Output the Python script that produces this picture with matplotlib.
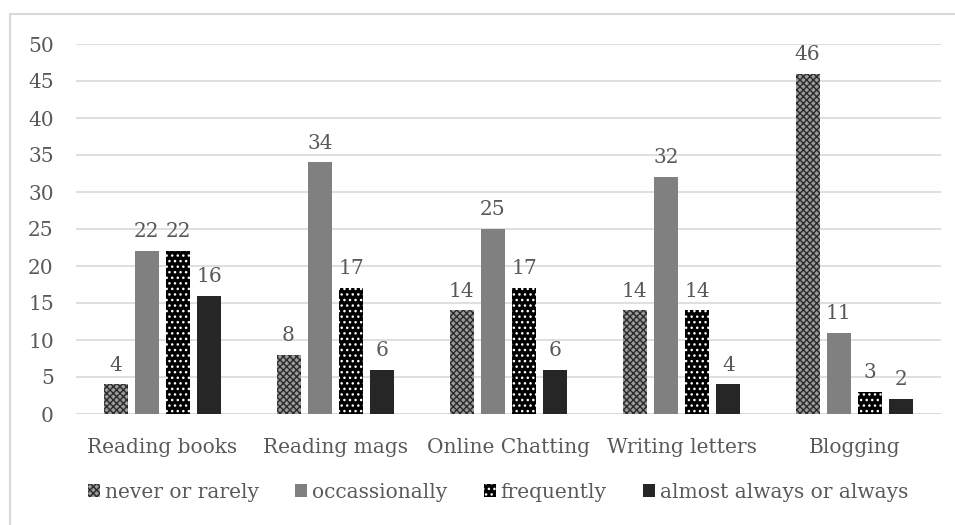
import matplotlib
matplotlib.use("Agg")
import matplotlib.pyplot as plt
import numpy as np
from matplotlib.lines import Line2D

categories = ["Reading books", "Reading mags", "Online Chatting", "Writing letters", "Blogging"]
series_names = ["never or rarely", "occassionally", "frequently", "almost always or always"]
never_rarely = [4, 8, 14, 14, 46]
occasionally = [22, 34, 25, 32, 11]
frequently = [22, 17, 17, 14, 3]
almost_always = [16, 6, 6, 4, 2]
y_ticks = [0, 5, 10, 15, 20, 25, 30, 35, 40, 45, 50]

plt.rcParams['font.family'] = ['DejaVu Serif']
plt.rcParams['hatch.linewidth'] = 1.0
TXT = '#595959'
FS = 14.5

fig = plt.figure(figsize=(9.55, 5.25), dpi=100)
ax = fig.add_axes([76/955, 1-414/525, 865/955, 370/525])

styles = [
    dict(facecolor='#9a9a9a', edgecolor='#2a2a2a', hatch='xxxxx'),
    dict(facecolor='#808080', edgecolor='#808080', hatch=None),
    dict(facecolor='#000000', edgecolor='#ffffff', hatch='...'),
    dict(facecolor='#262626', edgecolor='#262626', hatch=None),
]
data = [never_rarely, occasionally, frequently, almost_always]
x = np.arange(len(categories))
step = 0.181
width = 0.139
handles = []
for i, (vals, st, name) in enumerate(zip(data, styles, series_names)):
    pos = x + (i - 1.5) * step
    bars = ax.bar(pos, vals, width, linewidth=0, label=name, zorder=3, **st)
    handles.append(bars)
    for p, v in zip(pos, vals):
        ax.annotate(str(v), (p, v), xytext=(0, 7), textcoords='offset points',
                    ha='center', va='bottom', fontsize=FS, color=TXT)

ax.set_xlim(-0.5, len(categories) - 0.5)
ax.set_ylim(0, 50)
ax.set_yticks(y_ticks)
ax.set_yticklabels([str(t) for t in y_ticks])
ax.set_xticks(x)
ax.set_xticklabels(categories)
ax.tick_params(axis='both', length=0, labelsize=FS, labelcolor=TXT)
ax.tick_params(axis='y', pad=16)
ax.tick_params(axis='x', pad=17)
for s in ax.spines.values():
    s.set_visible(False)
ax.yaxis.grid(True, color='#d9d9d9', linewidth=1.2, zorder=0)
ax.set_axisbelow(True)
ax.axhline(0, color='#d9d9d9', linewidth=1.2, zorder=2)

leg = fig.legend(handles=handles, labels=series_names, loc='center',
                 bbox_to_anchor=(498/955, 1-492/525), ncol=4, frameon=False,
                 fontsize=FS, handlelength=0.6, handleheight=0.6,
                 handletextpad=0.25, columnspacing=1.8, labelcolor=TXT)

top = 1 - 14/525
left = 10/955
fig.add_artist(Line2D([left, 1.0], [top, top], transform=fig.transFigure,
                      color='#d9d9d9', linewidth=1.5))
fig.add_artist(Line2D([left, left], [0.0, top], transform=fig.transFigure,
                      color='#d9d9d9', linewidth=1.5))

fig.savefig('out.png', dpi=100)
